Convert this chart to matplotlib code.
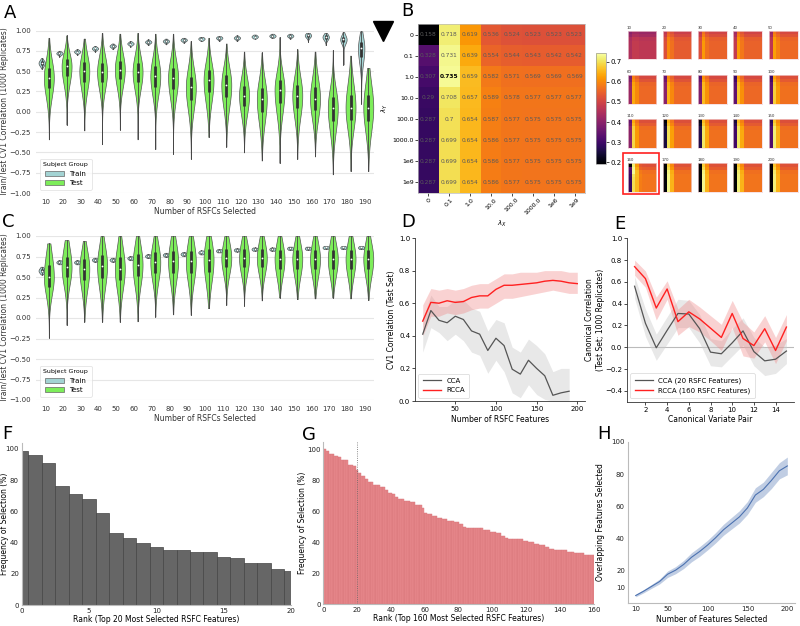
import matplotlib
matplotlib.use('Agg')
import matplotlib.pyplot as plt
from matplotlib.patches import Patch, Rectangle
from matplotlib.lines import Line2D
import numpy as np

W, H = 800, 626

# ---------------- data ----------------
n_rsfc = [10, 20, 30, 40, 50, 60, 70, 80, 90, 100, 110, 120, 130, 140, 150, 160, 170, 180, 190]

# panel A (violins: low tail, q1, median, q3, high tail)
a_test_lo = [-0.34, -0.16, -0.23, -0.40, -0.22, -0.34, -0.46, -0.52, -0.58, -0.31, -0.43, -0.50, -0.60, -0.63, -0.58, -0.55, -0.77, -0.73, -0.73]
a_test_q1 = [0.29, 0.44, 0.37, 0.37, 0.40, 0.37, 0.31, 0.28, 0.15, 0.24, 0.18, 0.07, 0.00, 0.11, 0.05, 0.02, -0.11, -0.10, -0.11]
a_test_med = [0.42, 0.56, 0.50, 0.49, 0.52, 0.49, 0.44, 0.42, 0.30, 0.39, 0.33, 0.20, 0.16, 0.27, 0.20, 0.16, 0.05, 0.05, 0.05]
a_test_q3 = [0.54, 0.65, 0.61, 0.60, 0.63, 0.60, 0.56, 0.54, 0.43, 0.51, 0.45, 0.32, 0.29, 0.39, 0.33, 0.30, 0.18, 0.21, 0.21]
a_test_hi = [0.91, 0.94, 0.90, 0.97, 0.96, 0.97, 0.96, 0.96, 0.87, 0.91, 0.84, 0.74, 0.73, 0.92, 0.77, 0.74, 0.76, 0.69, 0.54]

a_train_lo = [0.53, 0.68, 0.70, 0.74, 0.77, 0.80, 0.82, 0.83, 0.85, 0.87, 0.87, 0.87, 0.90, 0.91, 0.90, 0.86, 0.82, 0.58, 0.10]
a_train_q1 = [0.58, 0.71, 0.73, 0.77, 0.80, 0.83, 0.85, 0.86, 0.875, 0.89, 0.90, 0.90, 0.915, 0.925, 0.925, 0.925, 0.90, 0.86, 0.68]
a_train_med = [0.60, 0.72, 0.74, 0.78, 0.81, 0.84, 0.86, 0.87, 0.885, 0.90, 0.91, 0.91, 0.925, 0.935, 0.935, 0.94, 0.92, 0.89, 0.78]
a_train_q3 = [0.62, 0.73, 0.75, 0.79, 0.82, 0.85, 0.87, 0.88, 0.895, 0.91, 0.92, 0.92, 0.935, 0.945, 0.945, 0.955, 0.94, 0.92, 0.86]
a_train_hi = [0.66, 0.75, 0.77, 0.81, 0.84, 0.87, 0.89, 0.90, 0.91, 0.92, 0.93, 0.94, 0.95, 0.96, 0.96, 0.97, 0.97, 0.98, 0.99]

# panel C
c_test_lo = [-0.24, -0.085, -0.045, -0.045, -0.045, -0.04, 0.016, 0.045, 0.04, 0.12, 0.16, 0.15, 0.215, 0.25, 0.23, 0.24, 0.25, 0.24, 0.22]
c_test_q1 = [0.38, 0.50, 0.46, 0.49, 0.46, 0.51, 0.55, 0.55, 0.55, 0.56, 0.62, 0.62, 0.62, 0.60, 0.60, 0.60, 0.60, 0.60, 0.60]
c_test_med = [0.50, 0.62, 0.60, 0.64, 0.60, 0.65, 0.68, 0.69, 0.69, 0.71, 0.73, 0.73, 0.73, 0.72, 0.72, 0.72, 0.72, 0.72, 0.72]
c_test_q3 = [0.65, 0.75, 0.72, 0.77, 0.74, 0.78, 0.80, 0.82, 0.82, 0.84, 0.84, 0.84, 0.84, 0.83, 0.83, 0.83, 0.83, 0.83, 0.83]
c_test_hi = [0.91, 0.95, 0.94, 1.0, 1.0, 1.0, 1.0, 1.0, 1.0, 1.0, 1.0, 1.0, 1.0, 1.0, 1.0, 1.0, 1.0, 1.0, 1.0]

c_train_lo = [0.53, 0.655, 0.655, 0.685, 0.685, 0.705, 0.73, 0.745, 0.755, 0.775, 0.80, 0.81, 0.82, 0.82, 0.83, 0.83, 0.84, 0.84, 0.84]
c_train_q1 = [0.56, 0.67, 0.67, 0.70, 0.70, 0.72, 0.745, 0.76, 0.77, 0.79, 0.81, 0.82, 0.83, 0.83, 0.84, 0.84, 0.85, 0.85, 0.85]
c_train_med = [0.577, 0.68, 0.68, 0.71, 0.71, 0.73, 0.755, 0.77, 0.78, 0.80, 0.82, 0.83, 0.84, 0.84, 0.85, 0.85, 0.86, 0.86, 0.86]
c_train_q3 = [0.595, 0.69, 0.69, 0.72, 0.72, 0.74, 0.765, 0.78, 0.79, 0.81, 0.83, 0.84, 0.85, 0.85, 0.86, 0.86, 0.87, 0.87, 0.87]
c_train_hi = [0.625, 0.705, 0.705, 0.735, 0.735, 0.755, 0.78, 0.795, 0.805, 0.825, 0.84, 0.85, 0.86, 0.86, 0.87, 0.87, 0.88, 0.88, 0.88]

# panel B heatmap
lam_labels = ['0', '0.1', '1.0', '10.0', '100.0', '1000.0', '1e6', '1e9']
heat = [
    [0.158, 0.718, 0.619, 0.536, 0.524, 0.523, 0.523, 0.523],
    [0.328, 0.731, 0.639, 0.554, 0.544, 0.543, 0.542, 0.542],
    [0.307, 0.735, 0.659, 0.582, 0.571, 0.569, 0.569, 0.569],
    [0.29, 0.708, 0.657, 0.589, 0.578, 0.577, 0.577, 0.577],
    [0.287, 0.7, 0.654, 0.587, 0.577, 0.575, 0.575, 0.575],
    [0.287, 0.699, 0.654, 0.586, 0.577, 0.575, 0.575, 0.575],
    [0.287, 0.699, 0.654, 0.586, 0.577, 0.575, 0.575, 0.575],
    [0.287, 0.699, 0.654, 0.586, 0.577, 0.575, 0.575, 0.575],
]

# panel B thumbnails: column 0, column 1, column 2, remaining columns
thumb_n = [10, 20, 30, 40, 50, 60, 70, 80, 90, 100, 110, 120, 130, 140, 150, 160, 170, 180, 190, 200]
thumb_c0 = [0.45, 0.52, 0.52, 0.48, 0.47, 0.42, 0.40, 0.38, 0.34, 0.34, 0.40, 0.25, 0.26, 0.30, 0.32, 0.29, 0.20, 0.19, 0.19, 0.19]
thumb_c1 = [0.48, 0.60, 0.62, 0.62, 0.63, 0.64, 0.65, 0.66, 0.67, 0.68, 0.69, 0.70, 0.71, 0.71, 0.72, 0.72, 0.73, 0.73, 0.72, 0.72]
thumb_c2 = [0.48, 0.57, 0.57, 0.58, 0.59, 0.60, 0.60, 0.61, 0.61, 0.62, 0.62, 0.63, 0.64, 0.64, 0.65, 0.65, 0.65, 0.65, 0.65, 0.65]
thumb_rest = [0.47, 0.54, 0.55, 0.55, 0.56, 0.56, 0.56, 0.56, 0.56, 0.57, 0.57, 0.57, 0.57, 0.57, 0.57, 0.575, 0.575, 0.575, 0.575, 0.575]
thumb_row_shift = [-0.05, -0.033, -0.006, 0, 0, 0, 0, 0]

# panel D
d_x = [10, 20, 30, 40, 50, 60, 70, 80, 90, 100, 110, 120, 130, 140, 150, 160, 170, 180, 190, 200]
d_cca = [0.41, 0.555, 0.495, 0.48, 0.52, 0.50, 0.43, 0.41, 0.31, 0.385, 0.34, 0.195, 0.165, 0.25, 0.20, 0.155, 0.035, 0.05, 0.06]
d_cca_lo = [0.30, 0.45, 0.42, 0.37, 0.41, 0.37, 0.30, 0.28, 0.17, 0.25, 0.18, 0.05, 0.02, 0.10, 0.04, 0.01, 0.0, 0.0, 0.0]
d_cca_hi = [0.50, 0.65, 0.58, 0.58, 0.62, 0.62, 0.57, 0.55, 0.43, 0.50, 0.48, 0.33, 0.30, 0.38, 0.34, 0.29, 0.18, 0.20, 0.20]
d_rcca = [0.49, 0.605, 0.60, 0.615, 0.605, 0.61, 0.635, 0.645, 0.645, 0.685, 0.71, 0.71, 0.715, 0.72, 0.725, 0.735, 0.74, 0.735, 0.725, 0.72]
d_rcca_lo = [0.40, 0.52, 0.52, 0.54, 0.53, 0.54, 0.56, 0.57, 0.57, 0.60, 0.63, 0.63, 0.64, 0.65, 0.66, 0.67, 0.68, 0.67, 0.66, 0.66]
d_rcca_hi = [0.59, 0.69, 0.68, 0.69, 0.68, 0.69, 0.71, 0.72, 0.72, 0.75, 0.78, 0.78, 0.79, 0.79, 0.79, 0.80, 0.80, 0.80, 0.79, 0.79]

# panel E
e_x = list(range(1, 16))
e_rcca = [0.74, 0.63, 0.36, 0.535, 0.235, 0.325, 0.26, 0.175, 0.09, 0.31, 0.08, 0.015, 0.17, -0.03, 0.185]
e_rcca_lo = [0.66, 0.55, 0.25, 0.44, 0.11, 0.19, 0.14, 0.06, -0.03, 0.18, -0.08, -0.10, 0.05, -0.15, 0.06]
e_rcca_hi = [0.80, 0.70, 0.46, 0.61, 0.35, 0.44, 0.37, 0.29, 0.21, 0.43, 0.23, 0.14, 0.29, 0.09, 0.30]
e_cca = [0.56, 0.22, -0.005, 0.155, 0.31, 0.305, 0.17, -0.045, -0.06, 0.04, 0.15, -0.04, -0.125, -0.11, -0.035]
e_cca_lo = [0.45, 0.10, -0.12, 0.03, 0.18, 0.18, 0.04, -0.17, -0.18, -0.08, 0.02, -0.17, -0.26, -0.24, -0.15]
e_cca_hi = [0.65, 0.35, 0.12, 0.28, 0.44, 0.43, 0.30, 0.08, 0.06, 0.17, 0.27, 0.09, 0.00, 0.02, 0.08]

# panel F
f_freq = [99, 96, 91, 76, 71, 68, 59, 46, 43, 40, 37, 35, 35, 34, 34, 31, 30, 27, 27, 23, 22]

# panel G (runs of equal frequency: value, number of ranks)
g_runs = [(100, 2), (99, 2), (97, 3), (96, 2), (95, 2), (93, 4), (90, 3), (89, 2), (87, 1),
          (85, 2), (83, 2), (81, 2), (79, 3), (77, 4), (76, 3), (74, 2), (72, 2), (71, 2), (69, 2),
          (68, 3), (67, 4), (66, 3), (64, 4), (62, 1), (59, 2), (58, 3), (57, 3), (56, 3), (55, 3),
          (54, 4), (53, 3), (52, 2), (50, 2), (49, 10), (48, 4), (47, 4), (46, 3), (44, 2), (43, 2),
          (42, 9), (41, 3), (40, 3), (39, 3), (38, 4), (37, 2), (36, 3), (35, 8), (34, 4), (33, 6), (32, 6)]

# panel H
h_x = [10, 20, 30, 40, 50, 60, 70, 80, 90, 100, 110, 120, 130, 140, 150, 160, 170, 180, 190, 200]
h_mean = [4.8, 7.5, 10.5, 13.5, 18, 20.5, 24, 28.5, 32, 36, 40.5, 45.5, 49.5, 53.5, 59, 67, 70.5, 76, 82, 85]
h_lo = [4.0, 6.5, 9.3, 12.0, 16.0, 18.3, 21.5, 25.7, 29.0, 33.0, 37.3, 42.1, 45.9, 49.7, 55.0, 62.5, 66.0, 71.0, 77.0, 79.5]
h_hi = [5.6, 8.5, 11.7, 15.0, 20.0, 22.7, 26.5, 31.3, 35.0, 39.0, 43.7, 48.9, 53.1, 57.3, 63.0, 71.5, 75.0, 81.0, 87.0, 90.5]

train_col = '#a3d3d3'
test_col = '#7ded5a'


def fig_axes(x0, y0, x1, y1):
    return fig.add_axes([x0 / W, 1 - y1 / H, (x1 - x0) / W, (y1 - y0) / H])


def draw_violin(ax, x, lo, q1, med, q3, hi, width, color):
    ys = np.linspace(lo, hi, 200)
    s = np.where(ys < med, max(med - q1, 0.004) / 0.55, max(q3 - med, 0.004) / 0.55)
    d = np.exp(-0.5 * ((ys - med) / s) ** 2)
    ax.fill_betweenx(ys, x - d * width / 2, x + d * width / 2, facecolor=color,
                     edgecolor='#555555', lw=0.5, zorder=2)
    ax.plot([x, x], [lo, hi], color='#444444', lw=0.6, zorder=3)
    ax.plot([x, x], [q1, q3], color='#333333', lw=2.0, solid_capstyle='butt', zorder=4)
    ax.plot(x, med, 'o', ms=1.3, color='white', mec='none', zorder=5)


def violin_panel(ax, train, test):
    for i in range(len(n_rsfc)):
        draw_violin(ax, i - 0.2, *[a[i] for a in train], 0.36, train_col)
        draw_violin(ax, i + 0.2, *[a[i] for a in test], 0.56, test_col)
    ax.set_xlim(-0.5, len(n_rsfc) - 0.5)
    ax.set_ylim(-1.0, 1.0)
    ax.set_xticks(range(len(n_rsfc)))
    ax.set_xticklabels([str(n) for n in n_rsfc])
    yt = np.arange(-1.0, 1.01, 0.25)
    ax.set_yticks(yt)
    ax.set_yticklabels([f'{v:.2f}'.replace('-', '\u2212') for v in yt])
    ax.grid(axis='y', color='#e6e6e6', lw=0.8, zorder=0)
    for s in ax.spines.values():
        s.set_visible(False)
    ax.tick_params(labelsize=5, length=0, pad=4, colors='#333333')
    ax.set_xlabel('Number of RSFCs Selected', fontsize=5.5, color='#333333', labelpad=2)
    ax.set_ylabel('Train/Test CV1 Correlation (1000 Replicates)', fontsize=5.5, color='#333333')
    ax.yaxis.set_label_coords(-0.08, 0.5)
    handles = [Patch(facecolor=train_col, edgecolor='#666666', lw=0.5, label='Train'),
               Patch(facecolor=test_col, edgecolor='#666666', lw=0.5, label='Test')]
    leg = ax.legend(handles=handles, title='Subject Group', loc='lower left', fontsize=5,
                    title_fontsize=4.5, frameon=True, borderpad=0.5, handlelength=2.6,
                    bbox_to_anchor=(0.0, 0.0))
    leg.get_frame().set_edgecolor('#dddddd')
    leg.get_frame().set_linewidth(0.6)


fig = plt.figure(figsize=(8, 6.26), dpi=100)

# ---------------- A ----------------
axA = fig_axes(36.4, 30.5, 373.6, 193)
violin_panel(axA, [a_train_lo, a_train_q1, a_train_med, a_train_q3, a_train_hi],
             [a_test_lo, a_test_q1, a_test_med, a_test_q3, a_test_hi])
fig.add_artist(Line2D([382.5 / W], [1 - 31 / H], marker='v', markersize=14, color='black',
                      transform=fig.transFigure))

# ---------------- C ----------------
axC = fig_axes(36.4, 236, 373.6, 400)
violin_panel(axC, [c_train_lo, c_train_q1, c_train_med, c_train_q3, c_train_hi],
             [c_test_lo, c_test_q1, c_test_med, c_test_q3, c_test_hi])

# ---------------- B ----------------
vmin, vmax = 0.19, 0.745
axB = fig_axes(418, 24, 585, 193)
im = axB.imshow(np.array(heat), cmap='inferno', vmin=vmin, vmax=vmax, aspect='auto')
for r in range(8):
    for c in range(8):
        v = heat[r][c]
        best = v == max(max(row) for row in heat)
        axB.text(c, r, f'{v:g}', ha='center', va='center', fontsize=4.2,
                 color='black' if best else '#5a5a5a', fontweight='bold' if best else 'normal')
axB.set_xticks(range(8))
axB.set_yticks(range(8))
axB.set_xticklabels(lam_labels, rotation=45, fontsize=4.5)
axB.set_yticklabels(lam_labels, fontsize=4.5)
axB.tick_params(length=2, width=0.5, pad=1)
axB.set_xlabel(r'$\lambda_X$', fontsize=5, labelpad=2)
axB.set_ylabel(r'$\lambda_Y$', fontsize=5, labelpad=2)
for s in axB.spines.values():
    s.set_color('#bbbbbb')
    s.set_linewidth(0.5)

cax = fig_axes(596, 53, 606, 164)
cb = fig.colorbar(im, cax=cax, ticks=[0.2, 0.3, 0.4, 0.5, 0.6, 0.7])
cb.ax.tick_params(labelsize=5, length=2, width=0.5, pad=1)
cb.outline.set_linewidth(0.5)
cb.outline.set_edgecolor('#999999')

thumb_x = [627.7, 662.7, 698.3, 733.3, 769]
thumb_y = [30.7, 75, 119, 163.3]
for k, n in enumerate(thumb_n):
    r, c = divmod(k, 5)
    x0, y0 = thumb_x[c], thumb_y[r]
    ax = fig_axes(x0, y0, x0 + 28.7, y0 + 28.7)
    if n == 160:
        mat = np.array(heat)
    else:
        row = np.array([thumb_c0[k], thumb_c1[k], thumb_c2[k]] + [thumb_rest[k]] * 5)
        mat = row[None, :] + np.array(thumb_row_shift)[:, None]
    ax.imshow(mat, cmap='inferno', vmin=vmin, vmax=vmax, aspect='auto')
    ax.set_xticks([])
    ax.set_yticks([])
    for s in ax.spines.values():
        s.set_color('#f3d6da')
        s.set_linewidth(0.5)
    fig.text((x0 - 1) / W, 1 - (y0 - 1) / H, str(n), fontsize=2.8, ha='left', va='bottom', color='#333333')
fig.patches.append(Rectangle((622.7 / W, 1 - 194 / H), 36.6 / W, 40.7 / H, transform=fig.transFigure,
                             fill=False, edgecolor='#ff2020', lw=1.2))

# ---------------- D ----------------
axD = fig_axes(415, 238, 585, 401)
xc = d_x[:len(d_cca)]
axD.fill_between(xc, d_cca_lo, d_cca_hi, color='#cccccc', alpha=0.45, lw=0)
axD.fill_between(d_x, d_rcca_lo, d_rcca_hi, color='#f08080', alpha=0.35, lw=0)
axD.plot(xc, d_cca, color='#555555', lw=0.9, label='CCA')
axD.plot(d_x, d_rcca, color='#ff2020', lw=1.0, label='RCCA')
axD.set_xlim(0.5, 209.5)
axD.set_ylim(0, 1.0)
axD.set_xticks([50, 100, 150, 200])
axD.set_yticks(np.arange(0, 1.01, 0.2))
axD.set_xlabel('Number of RSFC Features', fontsize=5.5, labelpad=2)
axD.set_ylabel('CV1 Correlation (Test Set)', fontsize=5.5)
axD.yaxis.set_label_coords(-0.11, 0.5)
axD.legend(loc='lower left', fontsize=5, frameon=True, handlelength=2.6, borderpad=0.6).get_frame().set_linewidth(0.5)

# ---------------- E ----------------
axE = fig_axes(627, 238.3, 794, 401.7)
axE.axhline(0, color='#bbbbbb', lw=0.8, zorder=0)
axE.fill_between(e_x, e_cca_lo, e_cca_hi, color='#cccccc', alpha=0.45, lw=0)
axE.fill_between(e_x, e_rcca_lo, e_rcca_hi, color='#f08080', alpha=0.35, lw=0)
axE.plot(e_x, e_cca, color='#555555', lw=0.9, label='CCA (20 RSFC Features)')
axE.plot(e_x, e_rcca, color='#ff2020', lw=1.0, label='RCCA (160 RSFC Features)')
axE.set_xlim(0.3, 15.7)
axE.set_ylim(-0.5, 1.0)
axE.set_xticks(range(2, 15, 2))
axE.set_yticks(np.arange(-0.4, 1.01, 0.2))
axE.set_yticklabels([f'{v:.1f}'.replace('-', '\u2212') for v in np.arange(-0.4, 1.01, 0.2)])
axE.set_xlabel('Canonical Variate Pair', fontsize=5.5, labelpad=2)
axE.set_ylabel('Canonical Correlation\n(Test Set; 1000 Replicates)', fontsize=5.5, linespacing=1.3)
axE.yaxis.set_label_coords(-0.13, 0.5)
axE.legend(loc='lower left', fontsize=5, frameon=True, handlelength=2.6, borderpad=0.6).get_frame().set_linewidth(0.5)

for ax in (axD, axE):
    for side in ('top', 'right'):
        ax.spines[side].set_visible(False)
    for side in ('left', 'bottom'):
        ax.spines[side].set_linewidth(0.6)
        ax.spines[side].set_color('#333333')
    ax.tick_params(labelsize=5, length=2, width=0.5, pad=1.5)

# ---------------- F ----------------
axF = fig_axes(21.7, 442.7, 291, 605)
axF.bar(range(len(f_freq)), f_freq, width=1.0, color='#666666', edgecolor='#444444', lw=0.5)
axF.set_xlim(0, 20)
axF.set_ylim(0, 104)
axF.set_xticks([0, 5, 10, 15, 20])
axF.set_yticks([0, 20, 40, 60, 80, 100])
axF.set_xlabel('Rank (Top 20 Most Selected RSFC Features)', fontsize=5.5, labelpad=1)
axF.set_ylabel('Frequency of Selection (%)', fontsize=5.5)
axF.yaxis.set_label_coords(-0.048, 0.5)

# ---------------- G ----------------
g_freq = []
for val, cnt in g_runs:
    g_freq += [val] * cnt
axG = fig_axes(323.3, 441.7, 593.5, 604.3)
axG.bar(range(len(g_freq)), g_freq, width=1.0, color='#e8898d', edgecolor='#d77479', lw=0.3)
axG.axvline(20, color='#666666', lw=0.6, ls=':')
axG.set_xlim(0, 160)
axG.set_ylim(0, 105)
axG.set_xticks(range(0, 161, 20))
axG.set_yticks([0, 20, 40, 60, 80, 100])
axG.set_xlabel('Rank (Top 160 Most Selected RSFC Features)', fontsize=5.5, labelpad=1)
axG.set_ylabel('Frequency of Selection (%)', fontsize=5.5)
axG.yaxis.set_label_coords(-0.06, 0.5)

# ---------------- H ----------------
axH = fig_axes(627.7, 441.7, 795.3, 603.3)
axH.fill_between(h_x, h_lo, h_hi, color='#4c72b0', alpha=0.35, lw=0)
axH.plot(h_x, h_mean, color='#4c72b0', lw=0.8)
axH.set_xlim(0, 210)
axH.set_ylim(0, 100)
axH.set_xticks([10, 50, 100, 150, 200])
axH.set_yticks([10, 20, 40, 60, 80, 100])
axH.set_xlabel('Number of Features Selected', fontsize=5.5, labelpad=2)
axH.set_ylabel('Overlapping Features Selected', fontsize=5.5)
axH.yaxis.set_label_coords(-0.135, 0.5)

for ax in (axF, axG, axH):
    for side in ('top', 'right'):
        ax.spines[side].set_visible(False)
    for side in ('left', 'bottom'):
        ax.spines[side].set_color('#bbbbbb')
        ax.spines[side].set_linewidth(0.8)
    ax.tick_params(labelsize=5, length=0, pad=2, colors='#222222')

# panel letters
for letter, x, y in [('A', 4, 4), ('B', 401, 2), ('C', 2, 213), ('D', 401, 213), ('E', 614, 215),
                     ('F', 2, 425), ('G', 302, 426), ('H', 597, 425)]:
    fig.text(x / W, 1 - y / H, letter, fontsize=13, ha='left', va='top')

fig.savefig('out.png', dpi=100)
